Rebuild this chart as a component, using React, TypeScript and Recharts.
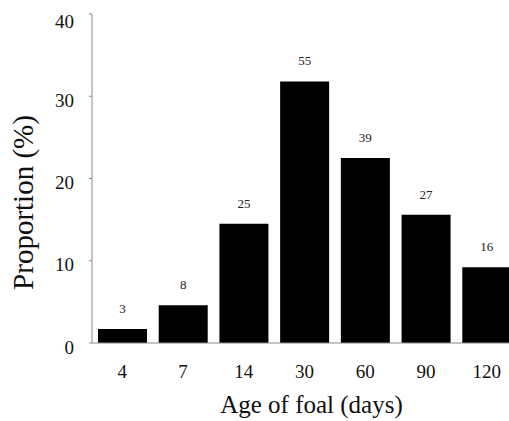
import React from 'react';
import { BarChart, Bar, XAxis, YAxis, LabelList } from 'recharts';

const ages = ['4', '7', '14', '30', '60', '90', '120'];
const proportions = [1.7, 4.6, 14.5, 31.8, 22.5, 15.6, 9.2];
const counts = [3, 8, 25, 55, 39, 27, 16];
const yTicks = [0, 10, 20, 30, 40];

const data = ages.map((age, i) => ({ age, proportion: proportions[i], count: counts[i] }));

const FONT = '"Liberation Serif", "Times New Roman", serif';
const AXIS = '#8a8a8a';

const YTick = (props: any) => {
  const { x, y, payload } = props;
  return (
    <text x={x} y={y + 10.5} textAnchor="end" fontFamily={FONT} fontSize={19} fill="#111">
      {payload.value}
    </text>
  );
};

const XTick = (props: any) => {
  const { x, y, payload } = props;
  return (
    <text x={x} y={y + 13} textAnchor="middle" fontFamily={FONT} fontSize={19} fill="#111">
      {payload.value}
    </text>
  );
};

export default function App() {
  return (
    <div
      style={{
        width: 509,
        height: 421,
        boxSizing: 'border-box',
        paddingLeft: 8,
        paddingTop: 8,
        overflow: 'hidden',
      }}
    >
      <style>{'body{margin:0}'}</style>
      <BarChart
        width={501}
        height={413}
        data={data}
        margin={{ top: 6, right: -8, bottom: 0, left: 0 }}
      >
        <XAxis
          dataKey="age"
          height={78}
          tickLine={false}
          tickSize={6}
          tickMargin={16}
          axisLine={{ stroke: AXIS, strokeWidth: 1 }}
          tick={<XTick />}
          label={{
            content: () => (
              <text x={303.5} y={405} textAnchor="middle" fontFamily={FONT} fontSize={25} fill="#111">
                Age of foal (days)
              </text>
            ),
          }}
        />
        <YAxis
          domain={[0, 40]}
          ticks={yTicks}
          width={84}
          tickSize={3}
          tickMargin={15}
          axisLine={{ stroke: AXIS, strokeWidth: 1 }}
          tickLine={{ stroke: AXIS, strokeWidth: 1 }}
          tick={<YTick />}
          label={{
            content: () => (
              <text
                transform="translate(25,194.5) rotate(-90)"
                textAnchor="middle"
                fontFamily={FONT}
                fontSize={29}
                fill="#111"
              >
                Proportion (%)
              </text>
            ),
          }}
        />
        <Bar dataKey="proportion" fill="#000" barSize={49} isAnimationActive={false}>
          <LabelList
            dataKey="count"
            position="top"
            offset={16}
            fill="#222"
            fontSize={13}
            fontFamily={FONT}
          />
        </Bar>
      </BarChart>
    </div>
  );
}
